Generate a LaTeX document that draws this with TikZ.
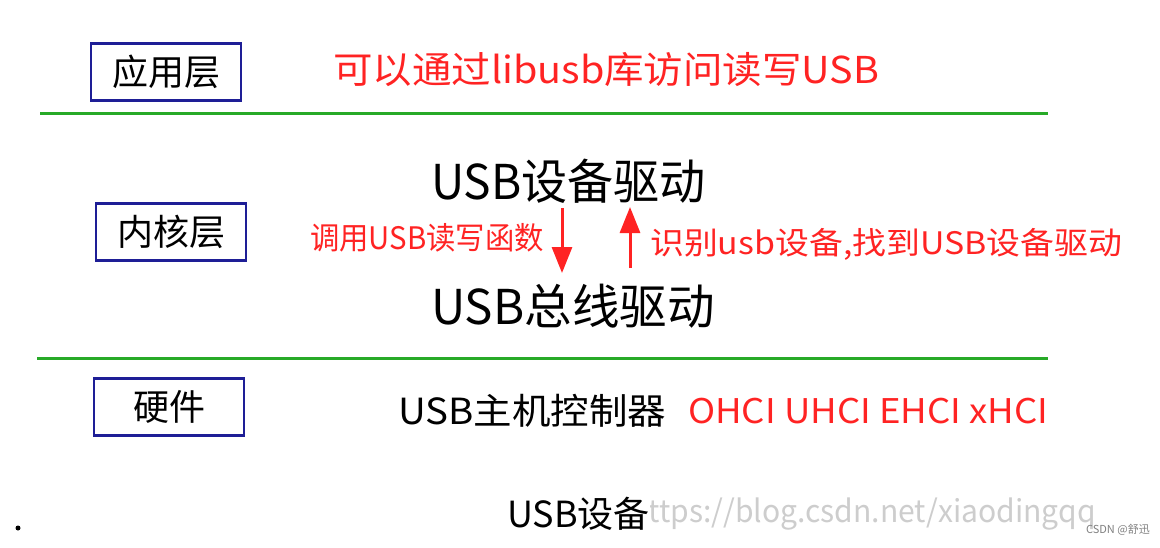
\documentclass[tikz,border=0pt]{standalone}
\usepackage{fontspec}
\setmainfont{Noto Sans CJK SC}
\usetikzlibrary{arrows.meta}
\definecolor{lred}{RGB}{255,35,35}
\definecolor{lgreen}{RGB}{40,170,40}
\definecolor{lblue}{RGB}{30,30,150}
\definecolor{wm}{RGB}{205,205,205}
\tikzset{
  layerbox/.style={draw=lblue, line width=2.5pt, minimum width=150pt, minimum height=57pt, inner sep=0pt, font=\fontsize{36}{38}\selectfont},
  blacktxt/.style={anchor=west, inner sep=0pt, text=black},
  redtxt/.style={anchor=west, inner sep=0pt, text=lred},
  sepline/.style={draw=lgreen, line width=3pt},
  redarrow/.style={draw=lred, line width=3pt, -{Triangle[length=26pt,width=20pt]}}
}
\begin{document}
\begin{tikzpicture}[x=1pt,y=-1pt]
\path[use as bounding box, fill=white] (0,0) rectangle (1160,547);
% layer boxes
\node[layerbox] (app) at (166,72) {应用层};
\node[layerbox] (kern) at (171,232) {内核层};
\node[layerbox] (hw) at (169,407) {硬件};
% separator lines
\coordinate (l1a) at (40,113); \coordinate (l1b) at (1048,113);
\coordinate (l2a) at (37,358); \coordinate (l2b) at (1048,358);
\path[sepline] (l1a) -- (l1b);
\path[sepline] (l2a) -- (l2b);
% application layer
\node[redtxt, font=\fontsize{37}{40}\selectfont] (libusb) at (333,70) {\scalebox{1.067}[1]{可以通过libusb库访问读写USB}};
% kernel layer
\node[blacktxt, font=\fontsize{48}{50}\selectfont] (devdrv) at (431,181) {\scalebox{0.96}[1]{USB设备驱动}};
\node[blacktxt, font=\fontsize{48}{50}\selectfont] (busdrv) at (431,306) {\scalebox{0.99}[1]{USB总线驱动}};
\node[redtxt, font=\fontsize{31}{34}\selectfont] (call) at (310,238) {\scalebox{0.947}[1]{调用USB读写函数}};
\node[redtxt, font=\fontsize{31}{34}\selectfont] (ident) at (650,244) {\scalebox{1.093}[1]{识别usb设备,找到USB设备驱动}};
\coordinate (dA) at (562,208); \coordinate (dB) at (562,273);
\coordinate (uA) at (630,268); \coordinate (uB) at (630,207);
\path[redarrow] (dA) -- (dB);
\path[redarrow] (uA) -- (uB);
% hardware
\node[blacktxt, font=\fontsize{36}{38}\selectfont] (hc) at (398,411) {\scalebox{1.07}[1]{USB主机控制器}};
\node[redtxt, font=\fontsize{34}{36}\selectfont] (hci) at (688,411) {\scalebox{1.075}[1]{OHCI UHCI EHCI xHCI}};
% watermark and device
\node[anchor=west, inner sep=0pt, text=wm, font=\fontsize{31}{34}\selectfont] (wmk) at (630,514) {\scalebox{0.97}[1]{https://blog.csdn.net/xiaodingqq}};
\node[blacktxt, font=\fontsize{36}{38}\selectfont, fill=white, inner xsep=0pt, inner ysep=0pt] (dev) at (507,514) {USB设备};
\node[anchor=east, inner sep=0pt, text=gray, font=\fontsize{11}{12}\selectfont] (csdn) at (1150,530) {CSDN @舒迅};
\fill[black] (18,528) circle (2.5pt);
\end{tikzpicture}
\end{document}
